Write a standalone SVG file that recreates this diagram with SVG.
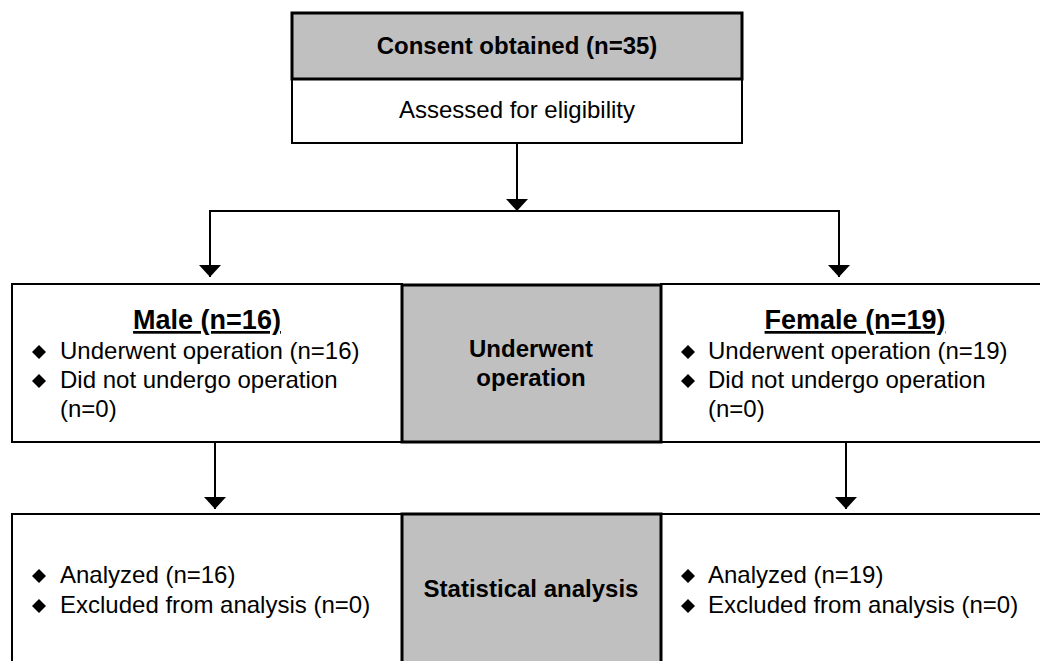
<svg xmlns="http://www.w3.org/2000/svg" width="1040" height="661" viewBox="0 0 1040 661">
<style>
  text { font-family: "Liberation Sans", Arial, sans-serif; fill: #000; }
  .b { font-weight: bold; font-size: 24px; }
  .r { font-size: 24px; }
  .t { font-weight: bold; font-size: 27px; text-decoration: underline; }
  .w { fill: #fff; stroke: #000; stroke-width: 2; }
  .g { fill: #c0c0c0; stroke: #000; stroke-width: 3; }
  .c { fill: none; stroke: #000; stroke-width: 2; marker-end: url(#ah); }
</style>
<defs>
  <marker id="ah" viewBox="0 0 12 22" refX="12" refY="11" markerWidth="12" markerHeight="22" markerUnits="userSpaceOnUse" orient="auto">
    <path d="M0,0 L12,11 L0,22 z" fill="#000"/>
  </marker>
  <polygon id="dm" points="0,-7 7,0 0,7 -7,0" fill="#000"/>
</defs>

<g id="connectors">
  <path class="c" d="M517,143 V211"/>
  <path class="c" d="M517,211 H210 V277"/>
  <path class="c" d="M517,211 H839 V277"/>
  <path class="c" d="M215,442 V509"/>
  <path class="c" d="M846,442 V509"/>
</g>

<g id="consent">
  <rect class="w" x="292" y="13" width="450" height="130"/>
  <rect class="g" x="292" y="13" width="450" height="66"/>
  <text class="b" x="517" y="54" text-anchor="middle">Consent obtained (n=35)</text>
  <text class="r" x="517" y="118" text-anchor="middle">Assessed for eligibility</text>
</g>

<g id="male">
  <rect class="w" x="12" y="284" width="390" height="158"/>
  <text class="t" x="207" y="329" text-anchor="middle">Male (n=16)</text>
  <use href="#dm" x="39" y="352"/>
  <text class="r" x="60" y="359">Underwent operation (n=16)</text>
  <use href="#dm" x="39" y="381"/>
  <text class="r" x="60" y="388">Did not undergo operation</text>
  <text class="r" x="60" y="417">(n=0)</text>
</g>

<g id="female">
  <rect class="w" x="661" y="284" width="392" height="158"/>
  <text class="t" x="855" y="329" text-anchor="middle">Female (n=19)</text>
  <use href="#dm" x="688" y="352"/>
  <text class="r" x="708" y="359">Underwent operation (n=19)</text>
  <use href="#dm" x="688" y="381"/>
  <text class="r" x="708" y="388">Did not undergo operation</text>
  <text class="r" x="708" y="417">(n=0)</text>
</g>

<g id="underwent">
  <rect class="g" x="402" y="285" width="259" height="157"/>
  <text class="b" x="531" y="357" text-anchor="middle">Underwent</text>
  <text class="b" x="531" y="386" text-anchor="middle">operation</text>
</g>

<g id="male-analysis">
  <rect class="w" x="12" y="514" width="390" height="160"/>
  <use href="#dm" x="39" y="576"/>
  <text class="r" x="60" y="583">Analyzed (n=16)</text>
  <use href="#dm" x="39" y="606"/>
  <text class="r" x="60" y="613">Excluded from analysis (n=0)</text>
</g>

<g id="female-analysis">
  <rect class="w" x="661" y="514" width="392" height="160"/>
  <use href="#dm" x="688" y="576"/>
  <text class="r" x="708" y="583">Analyzed (n=19)</text>
  <use href="#dm" x="688" y="606"/>
  <text class="r" x="708" y="613">Excluded from analysis (n=0)</text>
</g>

<g id="statistical">
  <rect class="g" x="402" y="514" width="259" height="160"/>
  <text class="b" x="531" y="597" text-anchor="middle">Statistical analysis</text>
</g>
</svg>
